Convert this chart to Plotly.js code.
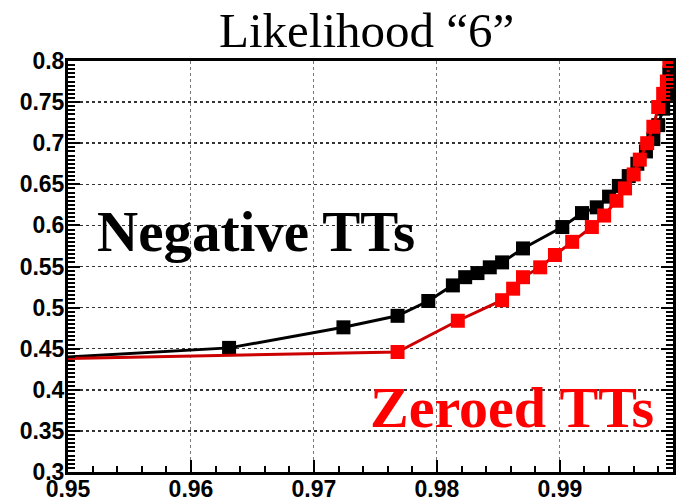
<!DOCTYPE html>
<html>
<head>
<meta charset="utf-8">
<script src="https://cdn.plot.ly/plotly-3.0.1.min.js"></script>
<style>html,body{margin:0;padding:0;background:#fff;}#chart{width:679px;height:502px;}</style>
</head>
<body>
<div id="chart"></div>
<script>
const chartTitle = "Likelihood \u201c6\u201d";
const negLabel = "Negative TTs";
const zeroLabel = "Zeroed TTs";

const negX = [0.95, 0.9631, 0.9724, 0.9768, 0.9793, 0.9813, 0.9823, 0.9833, 0.9843, 0.9853, 0.9870, 0.9902, 0.9918, 0.9930, 0.9940, 0.9948, 0.9956, 0.9963, 0.9970, 0.9976, 0.9980, 0.9984, 0.9987, 0.9989, 0.9990];
const negY = [0.440, 0.451, 0.476, 0.490, 0.508, 0.527, 0.537, 0.542, 0.549, 0.555, 0.572, 0.598, 0.615, 0.622, 0.635, 0.648, 0.660, 0.675, 0.690, 0.705, 0.722, 0.742, 0.760, 0.785, 0.800];

const zeroX = [0.95, 0.9768, 0.9817, 0.9853, 0.9862, 0.9870, 0.9884, 0.9896, 0.9910, 0.9926, 0.9936, 0.9946, 0.9953, 0.9960, 0.9965, 0.9971, 0.9976, 0.9980, 0.9984, 0.9987, 0.9989];
const zeroY = [0.438, 0.446, 0.484, 0.509, 0.523, 0.537, 0.549, 0.564, 0.580, 0.598, 0.612, 0.630, 0.645, 0.662, 0.680, 0.700, 0.720, 0.744, 0.760, 0.775, 0.800];

const negSizes = negX.map((v, i) => i === 0 ? 0 : 14);
const zeroSizes = zeroX.map((v, i) => i === 0 ? 0 : 14);

const traces = [
  {
    x: negX, y: negY, type: 'scatter', mode: 'lines+markers', name: negLabel,
    line: {color: '#000000', width: 3},
    marker: {symbol: 'square', size: negSizes, color: '#000000', opacity: 1, line: {width: 0}}
  },
  {
    x: zeroX, y: zeroY, type: 'scatter', mode: 'lines+markers', name: zeroLabel,
    line: {color: '#cc0000', width: 3},
    marker: {symbol: 'square', size: zeroSizes, color: '#ff0000', opacity: 1, line: {width: 0}}
  }
];

const tickFont = {family: 'Liberation Sans, Arial, sans-serif', size: 23, color: '#000', weight: 'bold'};

const layout = {
  width: 679, height: 502,
  margin: {l: 68, r: 6, t: 61, b: 30},
  paper_bgcolor: '#ffffff', plot_bgcolor: '#ffffff',
  showlegend: false,
  title: {
    text: chartTitle,
    font: {family: 'Liberation Serif, Times New Roman, serif', size: 49, color: '#000'},
    x: 0.54, xanchor: 'center', y: 0.975, yanchor: 'top'
  },
  xaxis: {
    range: [0.95, 0.9992],
    tickvals: [0.95, 0.96, 0.97, 0.98, 0.99],
    ticktext: ['0.95', '0.96', '0.97', '0.98', '0.99'],
    ticks: 'inside', ticklen: 12, tickwidth: 2, tickcolor: '#000',
    minor: {dtick: 0.002, tick0: 0.95, ticks: 'inside', ticklen: 6, tickwidth: 2, tickcolor: '#000', showgrid: false},
    showline: true, linewidth: 3, linecolor: '#000', mirror: true,
    showgrid: true, gridcolor: '#777', griddash: 'dot', gridwidth: 1,
    zeroline: false,
    tickfont: tickFont, ticklabelstandoff: -6
  },
  yaxis: {
    range: [0.3, 0.8],
    dtick: 0.05, tick0: 0.3,
    ticks: 'inside', ticklen: 12, tickwidth: 2, tickcolor: '#000',
    minor: {dtick: 0.005, tick0: 0.3, ticks: 'inside', ticklen: 7, tickwidth: 2, tickcolor: '#000', showgrid: false},
    showline: true, linewidth: 3, linecolor: '#000', mirror: 'allticks',
    showgrid: true, gridcolor: '#333', griddash: 'dot', gridwidth: 1.5,
    zeroline: false,
    tickfont: tickFont, ticklabelstandoff: -4
  },
  annotations: [
    {
      text: negLabel, xref: 'paper', yref: 'paper', x: 0.311, y: 0.584,
      xanchor: 'center', yanchor: 'middle', showarrow: false,
      font: {family: 'Liberation Serif, Times New Roman, serif', size: 57, color: '#000', weight: 'bold'}
    },
    {
      text: zeroLabel, xref: 'paper', yref: 'paper', x: 0.734, y: 0.156,
      xanchor: 'center', yanchor: 'middle', showarrow: false,
      font: {family: 'Liberation Serif, Times New Roman, serif', size: 58, color: '#ff0000', weight: 'bold'}
    }
  ]
};

Plotly.newPlot('chart', traces, layout, {displayModeBar: false, staticPlot: true});
</script>
</body>
</html>
